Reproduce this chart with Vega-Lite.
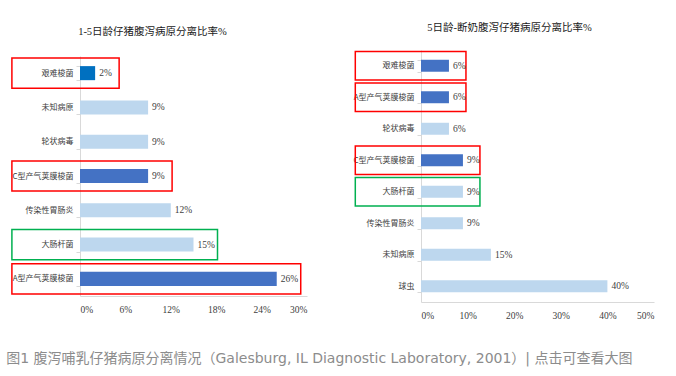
{
  "$schema": "https://vega.github.io/schema/vega-lite/v6.json",
  "background": "white",
  "padding": {"left": 6, "top": 22, "right": 5, "bottom": 5},
  "bounds": "flush",
  "center": true,
  "spacing": 114,
  "title": {
    "text": "图1 腹泻哺乳仔猪病原分离情况（Galesburg, IL Diagnostic Laboratory, 2001）| 点击可查看大图",
    "orient": "bottom",
    "anchor": "start",
    "dx": -5,
    "offset": 32,
    "font": "DejaVu Sans, Noto Sans CJK SC, sans-serif",
    "fontSize": 14,
    "fontWeight": "normal",
    "color": "#8c8c8c"
  },
  "datasets": {
    "early": [
      {"pathogen": "艰难梭菌", "value": 0.02, "group": "accent", "frame": "clostridium"},
      {"pathogen": "未知病原", "value": 0.09, "group": "secondary", "frame": null},
      {"pathogen": "轮状病毒", "value": 0.09, "group": "secondary", "frame": null},
      {"pathogen": "C型产气荚膜梭菌", "value": 0.09, "group": "primary", "frame": "clostridium"},
      {"pathogen": "传染性胃肠炎", "value": 0.12, "group": "secondary", "frame": null},
      {"pathogen": "大肠杆菌", "value": 0.15, "group": "secondary", "frame": "ecoli"},
      {"pathogen": "A型产气荚膜梭菌", "value": 0.26, "group": "primary", "frame": "clostridium"}
    ],
    "late": [
      {"pathogen": "艰难梭菌", "value": 0.06, "group": "primary", "frame": "clostridium"},
      {"pathogen": "A型产气荚膜梭菌", "value": 0.06, "group": "primary", "frame": "clostridium"},
      {"pathogen": "轮状病毒", "value": 0.06, "group": "secondary", "frame": null},
      {"pathogen": "C型产气荚膜梭菌", "value": 0.09, "group": "primary", "frame": "clostridium"},
      {"pathogen": "大肠杆菌", "value": 0.09, "group": "secondary", "frame": "ecoli"},
      {"pathogen": "传染性胃肠炎", "value": 0.09, "group": "secondary", "frame": null},
      {"pathogen": "未知病原", "value": 0.15, "group": "secondary", "frame": null},
      {"pathogen": "球虫", "value": 0.40, "group": "secondary", "frame": null}
    ]
  },
  "hconcat": [
    {
      "width": 227,
      "height": 240,
      "title": {"text": "1-5日龄仔猪腹泻病原分离比率%", "dx": -41, "offset": 15},
      "data": {"name": "early"},
      "resolve": {"scale": {"y": "independent"}},
      "layer": [
        {
          "transform": [{"filter": "datum.frame != null"}],
          "mark": {"type": "rect", "fillOpacity": 0, "strokeWidth": 1.5, "xOffset": 24},
          "encoding": {
            "y": {"field": "pathogen", "type": "nominal", "sort": null, "axis": null,
                  "scale": {"domain": ["艰难梭菌", "未知病原", "轮状病毒", "C型产气荚膜梭菌", "传染性胃肠炎", "大肠杆菌", "A型产气荚膜梭菌"], "paddingInner": 0.12, "paddingOuter": 0.06}},
            "x": {"field": "value", "type": "quantitative", "scale": {"domain": [0, 0.3], "nice": false}},
            "x2": {"datum": -0.09},
            "stroke": {"field": "frame", "type": "nominal", "legend": null,
                       "scale": {"domain": ["clostridium", "ecoli"], "range": ["#FF0000", "#00B050"]}}
          }
        },
        {
          "mark": {"type": "bar"},
          "encoding": {
            "y": {"field": "pathogen", "type": "nominal", "sort": null,
                  "scale": {"paddingInner": 0.59, "paddingOuter": 0.295},
                  "axis": {"title": null, "labelFont": "Noto Sans CJK SC", "labelFontSize": 8, "labelColor": "#404040",
                           "domainColor": "#d9d9d9", "tickColor": "#d9d9d9", "tickBand": "extent", "tickSize": 4, "labelPadding": 3}},
            "x": {"field": "value", "type": "quantitative",
                  "scale": {"domain": [0, 0.3], "nice": false},
                  "axis": {"title": null, "format": ".0%", "values": [0, 0.06, 0.12, 0.18, 0.24, 0.3], "grid": false, "ticks": false,
                           "labelFont": "Liberation Serif, Times New Roman, serif", "labelFontSize": 9.5, "labelColor": "#404040", "domainColor": "#d9d9d9", "labelPadding": 8}},
            "color": {"field": "group", "type": "nominal", "legend": null,
                      "scale": {"domain": ["accent", "primary", "secondary"], "range": ["#0070C0", "#4472C4", "#BDD7EE"]}}
          }
        },
        {
          "mark": {"type": "text", "align": "left", "baseline": "middle", "dx": 4, "font": "Liberation Serif, Times New Roman, serif", "fontSize": 9.5, "color": "#404040"},
          "encoding": {
            "y": {"field": "pathogen", "type": "nominal", "sort": null, "axis": null,
                  "scale": {"paddingInner": 0.59, "paddingOuter": 0.295}},
            "x": {"field": "value", "type": "quantitative"},
            "text": {"field": "value", "type": "quantitative", "format": ".0%"}
          }
        }
      ]
    },
    {
      "width": 233,
      "height": 252,
      "title": {"text": "5日龄-断奶腹泻仔猪病原分离比率%", "dx": -28, "offset": 13},
      "data": {"name": "late"},
      "resolve": {"scale": {"y": "independent"}},
      "layer": [
        {
          "transform": [{"filter": "datum.frame != null"}],
          "mark": {"type": "rect", "fillOpacity": 0, "strokeWidth": 1.5, "xOffset": 17},
          "encoding": {
            "y": {"field": "pathogen", "type": "nominal", "sort": null, "axis": null,
                  "scale": {"domain": ["艰难梭菌", "A型产气荚膜梭菌", "轮状病毒", "C型产气荚膜梭菌", "大肠杆菌", "传染性胃肠炎", "未知病原", "球虫"], "paddingInner": 0.1, "paddingOuter": 0.05}},
            "x": {"field": "value", "type": "quantitative", "scale": {"domain": [0, 0.5], "nice": false}},
            "x2": {"datum": -0.141},
            "stroke": {"field": "frame", "type": "nominal", "legend": null,
                       "scale": {"domain": ["clostridium", "ecoli"], "range": ["#FF0000", "#00B050"]}}
          }
        },
        {
          "mark": {"type": "bar"},
          "encoding": {
            "y": {"field": "pathogen", "type": "nominal", "sort": null,
                  "scale": {"paddingInner": 0.62, "paddingOuter": 0.31},
                  "axis": {"title": null, "labelFont": "Noto Sans CJK SC", "labelFontSize": 8, "labelColor": "#404040",
                           "domainColor": "#d9d9d9", "tickColor": "#d9d9d9", "tickBand": "extent", "tickSize": 4, "labelPadding": 3}},
            "x": {"field": "value", "type": "quantitative",
                  "scale": {"domain": [0, 0.5], "nice": false},
                  "axis": {"title": null, "format": ".0%", "values": [0, 0.1, 0.2, 0.3, 0.4, 0.5], "grid": false, "ticks": false,
                           "labelFont": "Liberation Serif, Times New Roman, serif", "labelFontSize": 9.5, "labelColor": "#404040", "domainColor": "#d9d9d9", "labelPadding": 8}},
            "color": {"field": "group", "type": "nominal", "legend": null,
                      "scale": {"domain": ["accent", "primary", "secondary"], "range": ["#0070C0", "#4472C4", "#BDD7EE"]}}
          }
        },
        {
          "mark": {"type": "text", "align": "left", "baseline": "middle", "dx": 4, "font": "Liberation Serif, Times New Roman, serif", "fontSize": 9.5, "color": "#404040"},
          "encoding": {
            "y": {"field": "pathogen", "type": "nominal", "sort": null, "axis": null,
                  "scale": {"paddingInner": 0.62, "paddingOuter": 0.31}},
            "x": {"field": "value", "type": "quantitative"},
            "text": {"field": "value", "type": "quantitative", "format": ".0%"}
          }
        }
      ]
    }
  ],
  "config": {
    "view": {"stroke": null},
    "title": {"font": "Liberation Serif, Noto Sans CJK SC, serif", "fontSize": 10.5, "fontWeight": "normal", "color": "#1a1a1a", "anchor": "middle"}
  }
}
